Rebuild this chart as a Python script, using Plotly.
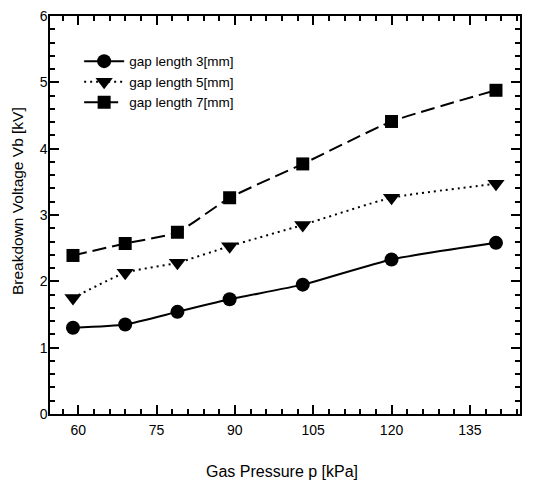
import plotly.graph_objects as go

pressure = [59, 69, 79, 89, 103, 120, 140]
gap3 = [1.30, 1.35, 1.54, 1.73, 1.95, 2.33, 2.58]
gap5 = [1.75, 2.13, 2.28, 2.53, 2.85, 3.26, 3.47]
gap7 = [2.39, 2.57, 2.74, 3.26, 3.77, 4.41, 4.88]
x_ticks = [60, 75, 90, 105, 120, 135]
y_ticks = [0, 1, 2, 3, 4, 5, 6]
x_title = "Gas Pressure p [kPa]"
y_title = "Breakdown Voltage Vb [kV]"

fig = go.Figure()
fig.add_trace(go.Scatter(x=pressure, y=gap3, name="gap length 3[mm]", mode="lines+markers",
                         line=dict(color="black", width=2, shape="spline", smoothing=0.5),
                         marker=dict(symbol="circle", size=14, color="black")))
fig.add_trace(go.Scatter(x=pressure, y=gap5, name="gap length 5[mm]", mode="lines+markers",
                         line=dict(color="black", width=2, dash="2px,4px", shape="spline", smoothing=0.5),
                         marker=dict(symbol="triangle-down", size=15, color="black")))
fig.add_trace(go.Scatter(x=pressure, y=gap7, name="gap length 7[mm]", mode="lines+markers",
                         line=dict(color="black", width=2, dash="14px,6px", shape="spline", smoothing=0.5),
                         marker=dict(symbol="square", size=13, color="black")))

font = "Liberation Sans, Arial, sans-serif"
# page body has an 8px margin, so the figure is sized/offset to compensate
fig.update_layout(
    width=535, height=477,
    margin=dict(l=42, r=23, t=8, b=71),
    paper_bgcolor="white", plot_bgcolor="white",
    font=dict(family=font, size=14, color="black"),
    showlegend=True,
    legend=dict(x=0.062, y=0.925, xanchor="left", yanchor="top", bgcolor="rgba(0,0,0,0)",
                font=dict(size=13.5, color="black"), itemwidth=40, tracegroupgap=0),
    annotations=[
        dict(text=x_title, xref="paper", yref="paper", x=0.4926, y=-57/398,
             xanchor="center", yanchor="middle", showarrow=False,
             font=dict(family=font, size=16, color="black")),
        dict(text=y_title, xref="paper", yref="paper", x=-0.0702, y=0.535, textangle=-90,
             xanchor="center", yanchor="middle", showarrow=False,
             font=dict(family=font, size=15.5, color="black")),
    ],
)
fig.update_xaxes(range=[54.6, 144.6], tickvals=x_ticks, ticks="inside", ticklen=9, tickwidth=1.5,
                 showline=True, linecolor="black", linewidth=1.5, mirror="ticks", tickcolor="black",
                 showgrid=False, zeroline=False, automargin=False, tickfont=dict(size=14, color="black"),
                 ticklabelstandoff=2, ticklabeloverflow="allow",
                 minor=dict(dtick=3, tick0=0, ticks="inside", ticklen=5, tickcolor="black", showgrid=False))
fig.update_yaxes(range=[0, 6], tickvals=y_ticks, ticks="inside", ticklen=9, tickwidth=1.5,
                 showline=True, linecolor="black", linewidth=1.5, mirror="ticks", tickcolor="black",
                 showgrid=False, zeroline=False, automargin=False, tickfont=dict(size=14, color="black"),
                 ticklabelstandoff=-2, ticklabeloverflow="allow",
                 minor=dict(dtick=0.2, tick0=0, ticks="inside", ticklen=5, tickcolor="black", showgrid=False))

fig.write_html("out.html")
